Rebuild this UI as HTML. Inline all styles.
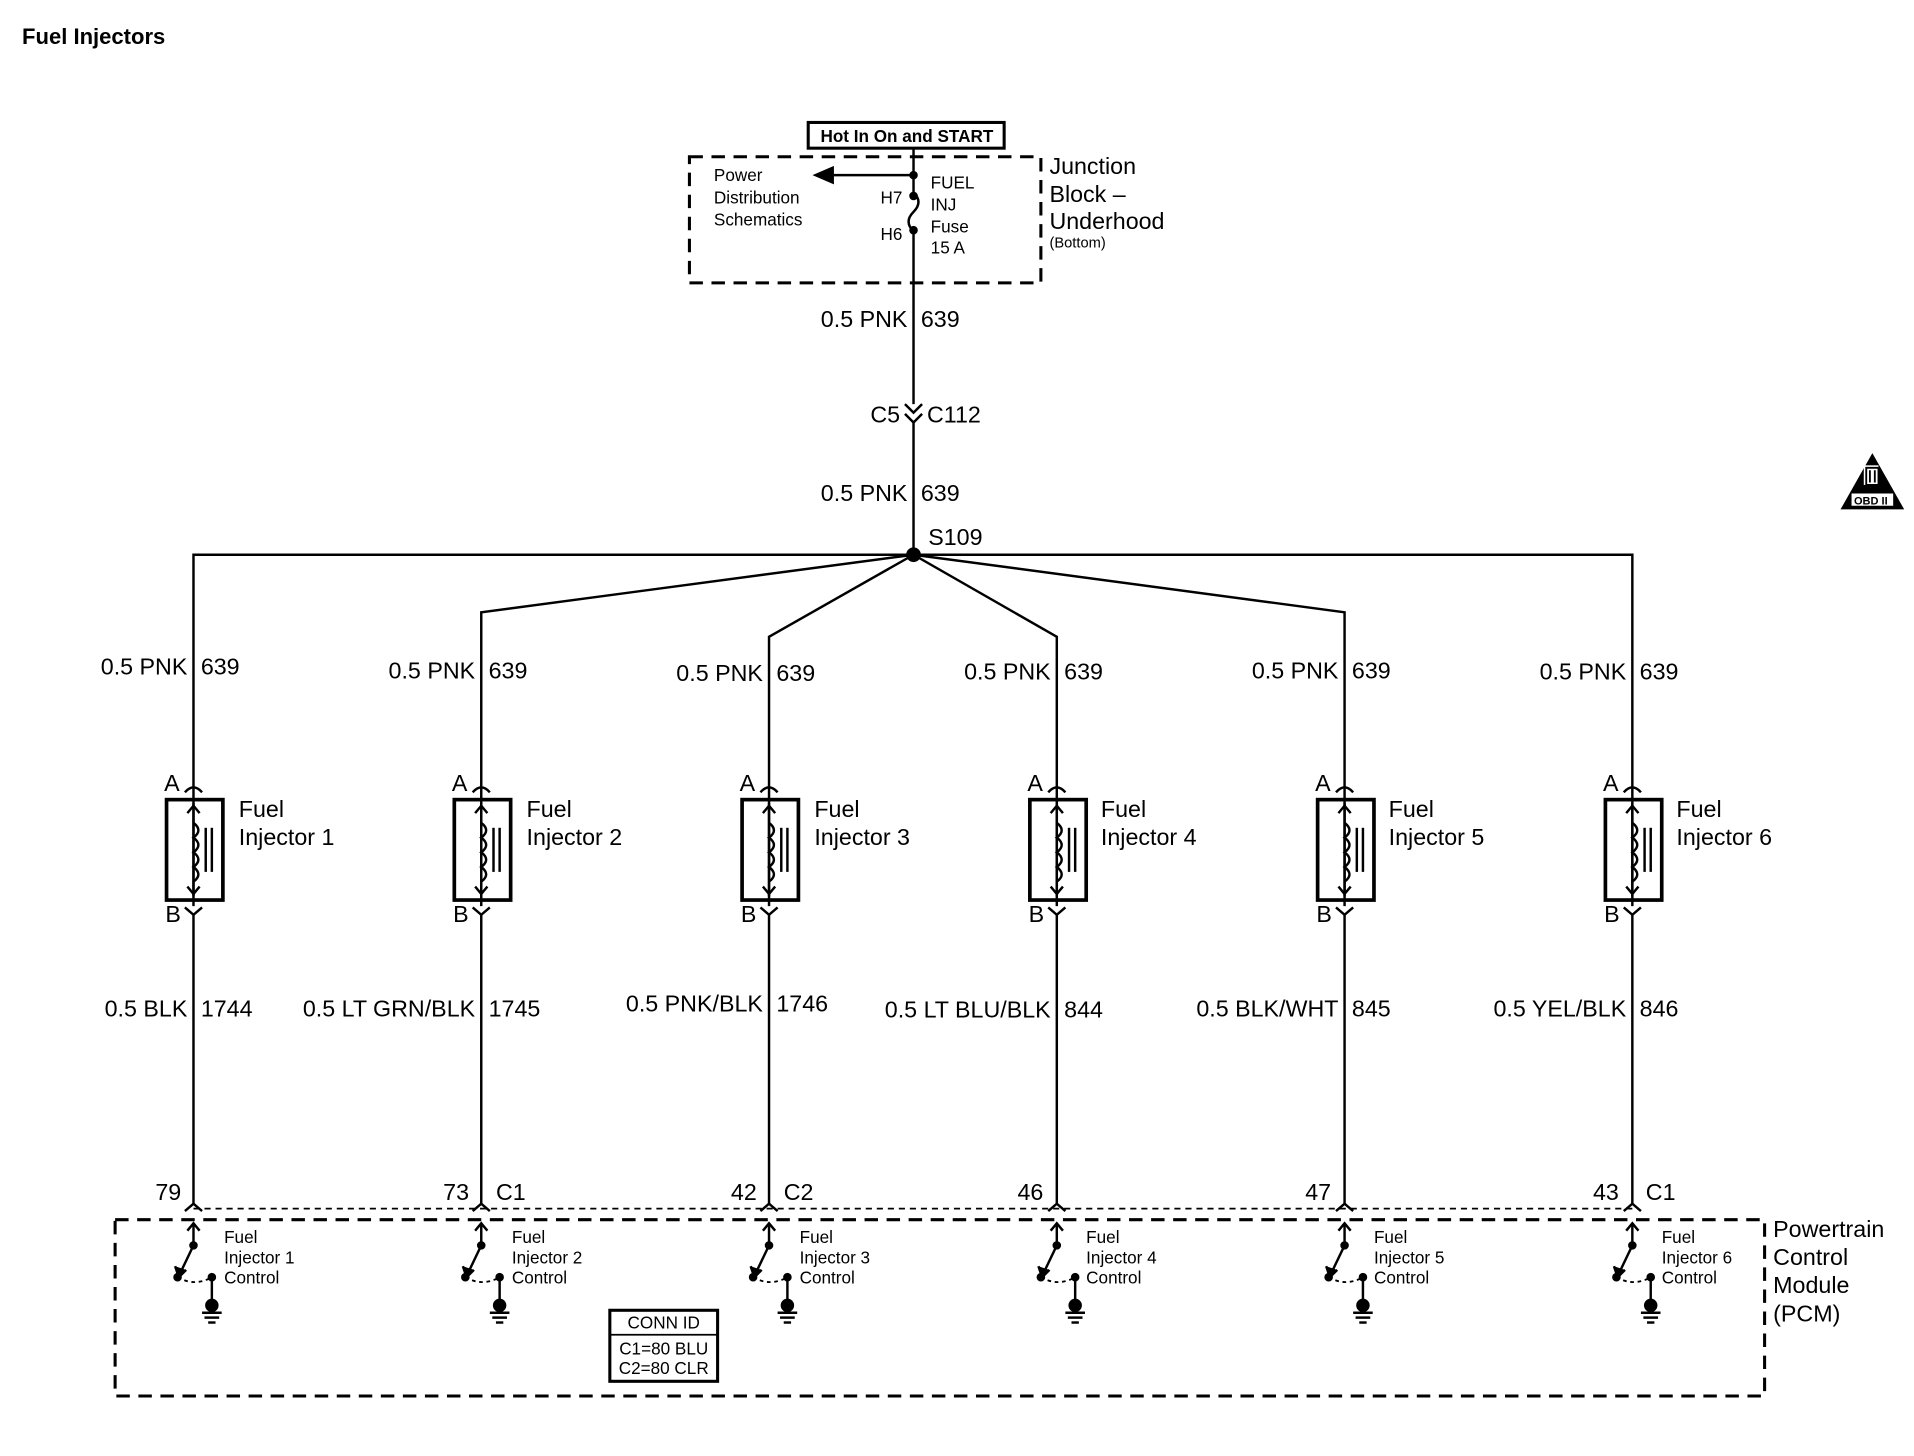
<!DOCTYPE html>
<html><head><meta charset="utf-8"><style>
html,body{margin:0;padding:0;background:#fff;}
svg{display:block;}
text{font-family:"Liberation Sans",Arial,sans-serif;fill:#000;}
.w{font-size:19px;}
.s{font-size:14px;}
</style></head><body>
<svg width="1914" height="1456" viewBox="0 0 1563 1189" xmlns="http://www.w3.org/2000/svg">
<g stroke="#000" fill="none" stroke-width="2">
<text x="18" y="36" font-size="18" font-weight="bold" stroke="none">Fuel Injectors</text>
<!-- top -->
<rect x="660" y="100" width="160" height="21" stroke-width="2.5"/>
<rect x="563" y="128" width="287" height="103" stroke-width="2.5" stroke-dasharray="11,7"/>
<line x1="746" y1="121" x2="746" y2="157"/>
<path d="M746 157 q8 8 0 16 q-8 8 0 16"/>
<line x1="746" y1="189" x2="746" y2="330"/>
<line x1="746" y1="143" x2="680" y2="143"/>
<path d="M666 143 l14 -6 v12 z" fill="#000"/>
<circle cx="746" cy="143" r="2.5" fill="#000"/>
<circle cx="746" cy="160" r="2.5" fill="#000"/>
<circle cx="746" cy="188" r="2.5" fill="#000"/>
<path d="M739 330 l7 7 l7 -7 M739 338 l7 7 l7 -7"/>
<line x1="746" y1="345" x2="746" y2="453"/>
<circle cx="746" cy="453" r="5" fill="#000"/>
<!-- fan -->
<polyline points="158,740 158,453 1333,453 1333,740"/>
<polyline points="393,740 393,500 746,453 1098,500 1098,740"/>
<polyline points="628,740 628,520 746,453 863,520 863,740"/>
<!-- dashed PCM box -->
<rect x="94" y="996" width="1347" height="144" stroke-width="2.5" stroke-dasharray="11,7"/>
<line x1="158" y1="987" x2="1333" y2="987" stroke-width="1.5" stroke-dasharray="5,4"/>
<rect x="498" y="1070" width="88" height="58" stroke-width="2.5"/>
<line x1="498" y1="1090" x2="586" y2="1090" stroke-width="1.5"/>
<!-- obd -->
<path d="M1529 370 l26 46 h-52 z" fill="#000" stroke="none"/>
</g>
<g stroke="#fff" fill="#fff" stroke-width="2"><rect x="1522" y="380" width="12" height="16" stroke="none"/><rect x="1512" y="403" width="34" height="10" stroke="none"/></g>
<path d="M1524 382 h10 v14 h-10 z M1527 384 v10 M1531 384 v10" stroke="#000" fill="none" stroke-width="1.5"/>
<text x="1514" y="412" font-size="9" font-weight="bold">OBD II</text>

<!-- column template -->
<defs>
<g id="col" stroke="#000" fill="none" stroke-width="2">
<path d="M151 647 q7 -8 14 0"/>
<rect x="136" y="653" width="46" height="82" stroke-width="3"/>
<line x1="158" y1="656" x2="158" y2="732"/>
<path d="M153 664 l5 -6 l5 6 M153 724 l5 6 l5 -6"/>
<path d="M158 672 q8 6 0 12 q8 6 0 12 q8 6 0 12 q8 6 0 12"/>
<line x1="168" y1="676" x2="168" y2="712"/><line x1="173" y1="676" x2="173" y2="712"/>
<path d="M151 741 l7 6 l7 -6"/>
<line x1="158" y1="747" x2="158" y2="983"/>
<path d="M151 989 l7 -6 l7 6"/>
<line x1="158" y1="999" x2="158" y2="1017"/>
<path d="M153 1005 l5 -6 l5 6"/>
<line x1="158" y1="1017" x2="147" y2="1040"/>
<path d="M143 1034 l3 9 l6 -6" fill="#000"/>
<circle cx="158" cy="1017" r="2.5" fill="#000"/>
<circle cx="145" cy="1043" r="2.5" fill="#000"/>
<circle cx="173" cy="1043" r="2.5" fill="#000"/>
<path d="M145 1043 q14 8 28 0" stroke-dasharray="3,3" stroke-width="1.5"/>
<line x1="173" y1="1043" x2="173" y2="1070"/>
<circle cx="173" cy="1066" r="4.5" fill="#000"/>
<line x1="165" y1="1072" x2="181" y2="1072"/><line x1="167" y1="1076" x2="179" y2="1076"/><line x1="170" y1="1080" x2="176" y2="1080"/>
</g>
</defs>
<use href="#col"/>
<use href="#col" transform="translate(235,0)"/>
<use href="#col" transform="translate(470,0)"/>
<use href="#col" transform="translate(705,0)"/>
<use href="#col" transform="translate(940,0)"/>
<use href="#col" transform="translate(1175,0)"/>

<!-- top texts -->
<text x="670" y="116" class="s" font-weight="bold">Hot In On and START</text>
<text x="583" y="148" class="s">Power</text>
<text x="583" y="166" class="s">Distribution</text>
<text x="583" y="184" class="s">Schematics</text>
<text x="719" y="166" class="s">H7</text>
<text x="719" y="196" class="s">H6</text>
<text x="760" y="154" class="s">FUEL</text>
<text x="760" y="172" class="s">INJ</text>
<text x="760" y="190" class="s">Fuse</text>
<text x="760" y="207" class="s">15 A</text>
<text x="857" y="142" font-size="19">Junction</text>
<text x="857" y="165" font-size="19">Block –</text>
<text x="857" y="187" font-size="19">Underhood</text>
<text x="857" y="202" font-size="12">(Bottom)</text>
<text x="741" y="267" class="w" text-anchor="end">0.5 PNK</text><text x="752" y="267" class="w">639</text>
<text x="735" y="345" class="w" text-anchor="end">C5</text><text x="757" y="345" class="w">C112</text>
<text x="741" y="409" class="w" text-anchor="end">0.5 PNK</text><text x="752" y="409" class="w">639</text>
<text x="758" y="445" class="w">S109</text>

<!-- upper wire labels -->
<g class="w">
<text x="153" y="551" text-anchor="end" class="w">0.5 PNK</text><text x="164" y="551" class="w">639</text>
<text x="388" y="554" text-anchor="end" class="w">0.5 PNK</text><text x="399" y="554" class="w">639</text>
<text x="623" y="556" text-anchor="end" class="w">0.5 PNK</text><text x="634" y="556" class="w">639</text>
<text x="858" y="555" text-anchor="end" class="w">0.5 PNK</text><text x="869" y="555" class="w">639</text>
<text x="1093" y="554" text-anchor="end" class="w">0.5 PNK</text><text x="1104" y="554" class="w">639</text>
<text x="1328" y="555" text-anchor="end" class="w">0.5 PNK</text><text x="1339" y="555" class="w">639</text>
</g>
<!-- injector labels -->
<text x="134" y="646" class="w">A</text><text x="135" y="753" class="w">B</text>
<text x="369" y="646" class="w">A</text><text x="370" y="753" class="w">B</text>
<text x="604" y="646" class="w">A</text><text x="605" y="753" class="w">B</text>
<text x="839" y="646" class="w">A</text><text x="840" y="753" class="w">B</text>
<text x="1074" y="646" class="w">A</text><text x="1075" y="753" class="w">B</text>
<text x="1309" y="646" class="w">A</text><text x="1310" y="753" class="w">B</text>
<text x="195" y="667" class="w">Fuel</text><text x="195" y="690" class="w">Injector 1</text>
<text x="430" y="667" class="w">Fuel</text><text x="430" y="690" class="w">Injector 2</text>
<text x="665" y="667" class="w">Fuel</text><text x="665" y="690" class="w">Injector 3</text>
<text x="899" y="667" class="w">Fuel</text><text x="899" y="690" class="w">Injector 4</text>
<text x="1134" y="667" class="w">Fuel</text><text x="1134" y="690" class="w">Injector 5</text>
<text x="1369" y="667" class="w">Fuel</text><text x="1369" y="690" class="w">Injector 6</text>
<!-- lower wire labels -->
<text x="153" y="830" text-anchor="end" class="w">0.5 BLK</text><text x="164" y="830" class="w">1744</text>
<text x="388" y="830" text-anchor="end" class="w">0.5 LT GRN/BLK</text><text x="399" y="830" class="w">1745</text>
<text x="623" y="826" text-anchor="end" class="w">0.5 PNK/BLK</text><text x="634" y="826" class="w">1746</text>
<text x="858" y="831" text-anchor="end" class="w">0.5 LT BLU/BLK</text><text x="869" y="831" class="w">844</text>
<text x="1093" y="830" text-anchor="end" class="w">0.5 BLK/WHT</text><text x="1104" y="830" class="w">845</text>
<text x="1328" y="830" text-anchor="end" class="w">0.5 YEL/BLK</text><text x="1339" y="830" class="w">846</text>
<!-- pins -->
<text x="148" y="980" text-anchor="end" class="w">79</text>
<text x="383" y="980" text-anchor="end" class="w">73</text><text x="405" y="980" class="w">C1</text>
<text x="618" y="980" text-anchor="end" class="w">42</text><text x="640" y="980" class="w">C2</text>
<text x="852" y="980" text-anchor="end" class="w">46</text>
<text x="1087" y="980" text-anchor="end" class="w">47</text>
<text x="1322" y="980" text-anchor="end" class="w">43</text><text x="1344" y="980" class="w">C1</text>
<!-- control labels -->
<g class="s">
<text x="183" y="1015" class="s">Fuel</text><text x="183" y="1032" class="s">Injector 1</text><text x="183" y="1048" class="s">Control</text>
<text x="418" y="1015" class="s">Fuel</text><text x="418" y="1032" class="s">Injector 2</text><text x="418" y="1048" class="s">Control</text>
<text x="653" y="1015" class="s">Fuel</text><text x="653" y="1032" class="s">Injector 3</text><text x="653" y="1048" class="s">Control</text>
<text x="887" y="1015" class="s">Fuel</text><text x="887" y="1032" class="s">Injector 4</text><text x="887" y="1048" class="s">Control</text>
<text x="1122" y="1015" class="s">Fuel</text><text x="1122" y="1032" class="s">Injector 5</text><text x="1122" y="1048" class="s">Control</text>
<text x="1357" y="1015" class="s">Fuel</text><text x="1357" y="1032" class="s">Injector 6</text><text x="1357" y="1048" class="s">Control</text>
</g>
<text x="542" y="1085" class="s" text-anchor="middle">CONN ID</text>
<text x="542" y="1106" class="s" text-anchor="middle">C1=80 BLU</text>
<text x="542" y="1122" class="s" text-anchor="middle">C2=80 CLR</text>
<text x="1448" y="1010" class="w">Powertrain</text>
<text x="1448" y="1033" class="w">Control</text>
<text x="1448" y="1056" class="w">Module</text>
<text x="1448" y="1079" class="w">(PCM)</text>
</svg>
</body></html>
